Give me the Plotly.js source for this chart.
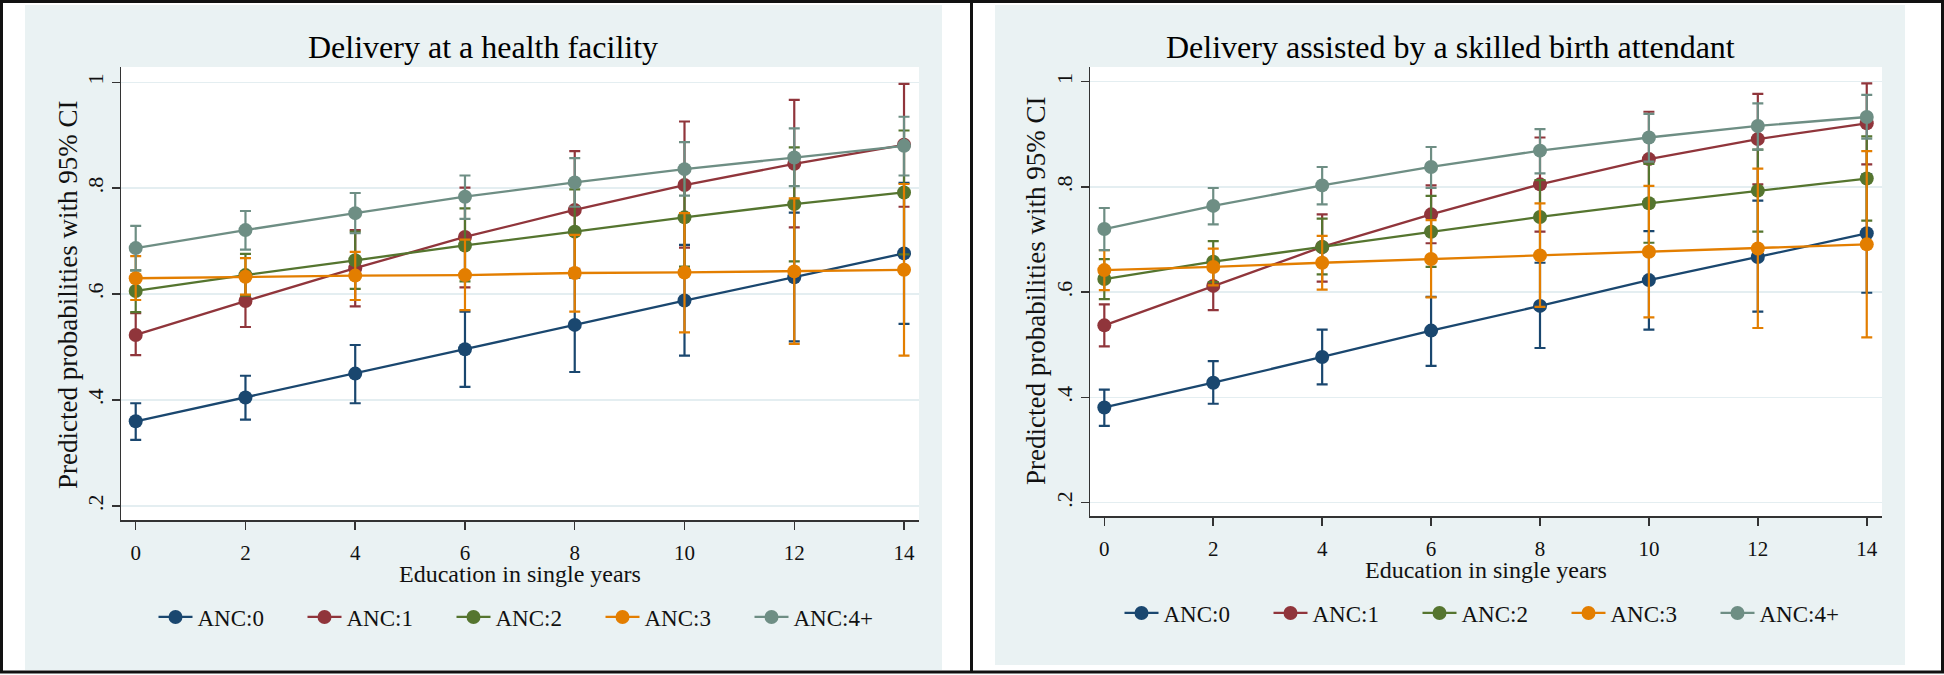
<!DOCTYPE html>
<html>
<head>
<meta charset="utf-8">
<script src="https://cdn.plot.ly/plotly-3.0.1.min.js"></script>
<style>
html,body{margin:0;padding:0;background:#ffffff;overflow:hidden;}
#chart{width:1944px;height:675px;}
</style>
</head>
<body>
<div id="chart"></div>
<script>
// ---------- data ----------
const educationYears = [0, 2, 4, 6, 8, 10, 12, 14];
const seriesNames = ['ANC:0', 'ANC:1', 'ANC:2', 'ANC:3', 'ANC:4+'];
const seriesColors = ['#1a476f', '#90353b', '#55752f', '#e37e00', '#6e8e84'];
const xTickLabels = ['0', '2', '4', '6', '8', '10', '12', '14'];
const yTickValues = [0.2, 0.4, 0.6, 0.8, 1];
const yTickLabels = ['.2', '.4', '.6', '.8', '1'];

// Panel 1: Delivery at a health facility
const facilityAnc0 = [0.360, 0.405, 0.450, 0.496, 0.542, 0.588, 0.632, 0.677];
const facilityAnc0Lo = [0.325, 0.363, 0.394, 0.425, 0.453, 0.484, 0.511, 0.544];
const facilityAnc0Hi = [0.394, 0.446, 0.504, 0.567, 0.631, 0.693, 0.754, 0.810];
const facilityAnc1 = [0.523, 0.587, 0.649, 0.708, 0.759, 0.806, 0.846, 0.882];
const facilityAnc1Lo = [0.485, 0.538, 0.577, 0.613, 0.648, 0.688, 0.726, 0.765];
const facilityAnc1Hi = [0.564, 0.636, 0.721, 0.801, 0.870, 0.926, 0.967, 0.997];
const facilityAnc2 = [0.606, 0.636, 0.664, 0.692, 0.718, 0.745, 0.770, 0.792];
const facilityAnc2Lo = [0.566, 0.597, 0.610, 0.624, 0.638, 0.652, 0.662, 0.675];
const facilityAnc2Hi = [0.645, 0.676, 0.718, 0.762, 0.798, 0.838, 0.877, 0.909];
const facilityAnc3 = [0.630, 0.633, 0.635, 0.636, 0.640, 0.641, 0.643, 0.646];
const facilityAnc3Lo = [0.589, 0.599, 0.589, 0.570, 0.567, 0.528, 0.506, 0.484];
const facilityAnc3Hi = [0.672, 0.668, 0.680, 0.703, 0.712, 0.753, 0.781, 0.808];
const facilityAnc4 = [0.687, 0.721, 0.753, 0.784, 0.811, 0.836, 0.858, 0.880];
const facilityAnc4Lo = [0.645, 0.684, 0.715, 0.742, 0.765, 0.786, 0.804, 0.824];
const facilityAnc4Hi = [0.729, 0.757, 0.791, 0.824, 0.857, 0.887, 0.913, 0.935];

// Panel 2: Delivery assisted by a skilled birth attendant
const sbaAnc0 = [0.381, 0.428, 0.477, 0.527, 0.574, 0.623, 0.667, 0.712];
const sbaAnc0Lo = [0.346, 0.388, 0.425, 0.460, 0.494, 0.529, 0.563, 0.599];
const sbaAnc0Hi = [0.415, 0.469, 0.529, 0.591, 0.656, 0.716, 0.774, 0.824];
const sbaAnc1 = [0.537, 0.612, 0.686, 0.748, 0.805, 0.853, 0.891, 0.921];
const sbaAnc1Lo = [0.497, 0.566, 0.620, 0.693, 0.715, 0.763, 0.805, 0.843];
const sbaAnc1Hi = [0.577, 0.658, 0.748, 0.803, 0.894, 0.943, 0.977, 0.997];
const sbaAnc2 = [0.625, 0.658, 0.686, 0.715, 0.743, 0.769, 0.793, 0.816];
const sbaAnc2Lo = [0.587, 0.619, 0.634, 0.648, 0.673, 0.694, 0.715, 0.736];
const sbaAnc2Hi = [0.663, 0.697, 0.740, 0.783, 0.813, 0.844, 0.871, 0.896];
const sbaAnc3 = [0.642, 0.648, 0.656, 0.663, 0.670, 0.677, 0.683, 0.691];
const sbaAnc3Lo = [0.604, 0.613, 0.605, 0.590, 0.572, 0.552, 0.532, 0.514];
const sbaAnc3Hi = [0.680, 0.683, 0.707, 0.737, 0.769, 0.802, 0.835, 0.868];
const sbaAnc4 = [0.720, 0.764, 0.803, 0.838, 0.869, 0.894, 0.916, 0.933];
const sbaAnc4Lo = [0.680, 0.729, 0.767, 0.798, 0.826, 0.848, 0.871, 0.892];
const sbaAnc4Hi = [0.760, 0.798, 0.838, 0.876, 0.910, 0.939, 0.959, 0.975];

const panelTitles = ['Delivery at a health facility', 'Delivery assisted by a skilled birth attendant'];
const xAxisTitle = 'Education in single years';
const yAxisTitle = 'Predicted probabilities with 95% CI';

// ---------- build ----------
const FONT = 'Liberation Serif, Times New Roman, serif';
const W = 1944, H = 675;
const px = v => v / W;
const py = v => 1 - v / H;

const facilitySets = [
  [facilityAnc0, facilityAnc0Lo, facilityAnc0Hi],
  [facilityAnc1, facilityAnc1Lo, facilityAnc1Hi],
  [facilityAnc2, facilityAnc2Lo, facilityAnc2Hi],
  [facilityAnc3, facilityAnc3Lo, facilityAnc3Hi],
  [facilityAnc4, facilityAnc4Lo, facilityAnc4Hi]
];
const sbaSets = [
  [sbaAnc0, sbaAnc0Lo, sbaAnc0Hi],
  [sbaAnc1, sbaAnc1Lo, sbaAnc1Hi],
  [sbaAnc2, sbaAnc2Lo, sbaAnc2Hi],
  [sbaAnc3, sbaAnc3Lo, sbaAnc3Hi],
  [sbaAnc4, sbaAnc4Lo, sbaAnc4Hi]
];

function makeTraces(sets, xa, ya, legendId) {
  return sets.map((s, i) => {
    const [est, lo, hi] = s;
    return {
      type: 'scatter',
      mode: 'lines+markers',
      x: educationYears,
      y: est,
      name: seriesNames[i],
      xaxis: xa, yaxis: ya,
      legend: legendId,
      line: {color: seriesColors[i], width: 2.3},
      marker: {color: seriesColors[i], size: 14},
      error_y: {
        type: 'data', symmetric: false,
        array: hi.map((h, k) => h - est[k]),
        arrayminus: est.map((e, k) => e - lo[k]),
        color: seriesColors[i], thickness: 2.2, width: 5.5
      },
      hoverinfo: 'x+y+name'
    };
  });
}

const data = [
  ...makeTraces(facilitySets, 'x', 'y', 'legend'),
  ...makeTraces(sbaSets, 'x2', 'y2', 'legend2')
];

const xAxisCommon = {
  tickmode: 'array', tickvals: educationYears, ticktext: xTickLabels,
  ticks: 'outside', ticklen: 8, tickwidth: 1.5, tickcolor: '#333',
  showline: true, linecolor: '#333', linewidth: 1.5,
  showgrid: false, zeroline: false,
  tickfont: {family: FONT, size: 21, color: '#111'},
  ticklabelstandoff: 5
};
const yAxisCommon = {
  tickmode: 'array', tickvals: yTickValues, ticktext: yTickLabels,
  ticks: 'outside', ticklen: 8, tickwidth: 1.5, tickcolor: '#333',
  showline: true, linecolor: '#333', linewidth: 1.5,
  showgrid: true, gridcolor: '#e4eef1', gridwidth: 1.5, zeroline: false,
  tickangle: -90,
  tickfont: {family: FONT, size: 22, color: '#111'}
};

const legendCommon = {
  orientation: 'h', xanchor: 'center', yanchor: 'middle',
  bgcolor: 'rgba(0,0,0,0)', font: {family: FONT, size: 23, color: '#111'},
  entrywidth: 100, entrywidthmode: 'pixels', itemwidth: 34
};

const layout = {
  width: W, height: H,
  margin: {l: 0, r: 0, t: 0, b: 0, pad: 0, autoexpand: false},
  paper_bgcolor: '#ffffff',
  plot_bgcolor: 'rgba(0,0,0,0)',
  font: {family: FONT, color: '#111'},
  xaxis: Object.assign({}, xAxisCommon, {domain: [px(121), px(919)], range: [-0.268, 14.273], anchor: 'y'}),
  yaxis: Object.assign({}, yAxisCommon, {domain: [py(520), py(67)], range: [0.1736, 1.0289], anchor: 'x'}),
  xaxis2: Object.assign({}, xAxisCommon, {domain: [px(1090), px(1882)], range: [-0.263, 14.28], anchor: 'y2'}),
  yaxis2: Object.assign({}, yAxisCommon, {domain: [py(516), py(67)], range: [0.1747, 1.028], anchor: 'x2'}),
  showlegend: true,
  legend: Object.assign({}, legendCommon, {x: px(526), y: py(617)}),
  legend2: Object.assign({}, legendCommon, {x: px(1492), y: py(613)}),
  shapes: [
    // panel backgrounds
    {type: 'rect', xref: 'paper', yref: 'paper', layer: 'below', x0: px(25), x1: px(942), y0: py(670), y1: py(5), fillcolor: '#eaf2f3', line: {width: 0}},
    {type: 'rect', xref: 'paper', yref: 'paper', layer: 'below', x0: px(995), x1: px(1905), y0: py(665), y1: py(5), fillcolor: '#eaf2f3', line: {width: 0}},
    // plot regions
    {type: 'rect', xref: 'paper', yref: 'paper', layer: 'below', x0: px(121), x1: px(919), y0: py(520), y1: py(67), fillcolor: '#ffffff', line: {width: 0}},
    {type: 'rect', xref: 'paper', yref: 'paper', layer: 'below', x0: px(1090), x1: px(1882), y0: py(516), y1: py(67), fillcolor: '#ffffff', line: {width: 0}},
    // outer frames
    {type: 'rect', xref: 'paper', yref: 'paper', layer: 'above', x0: px(1.5), x1: px(1942.5), y0: py(672), y1: py(1.5), fillcolor: 'rgba(0,0,0,0)', line: {color: '#111', width: 3}},
    {type: 'line', xref: 'paper', yref: 'paper', layer: 'above', x0: px(971.5), x1: px(971.5), y0: py(672), y1: py(1.5), line: {color: '#111', width: 3}}
  ],
  annotations: [
    {text: panelTitles[0], xref: 'paper', yref: 'paper', x: px(483), y: py(47), xanchor: 'center', yanchor: 'middle', showarrow: false, font: {family: FONT, size: 32, color: '#000'}},
    {text: panelTitles[1], xref: 'paper', yref: 'paper', x: px(1450), y: py(47), xanchor: 'center', yanchor: 'middle', showarrow: false, font: {family: FONT, size: 32, color: '#000'}},
    {text: yAxisTitle, xref: 'paper', yref: 'paper', x: px(68), y: py(295), xanchor: 'center', yanchor: 'middle', textangle: -90, showarrow: false, font: {family: FONT, size: 27, color: '#111'}},
    {text: yAxisTitle, xref: 'paper', yref: 'paper', x: px(1036), y: py(291), xanchor: 'center', yanchor: 'middle', textangle: -90, showarrow: false, font: {family: FONT, size: 27, color: '#111'}},
    {text: xAxisTitle, xref: 'paper', yref: 'paper', x: px(520), y: py(574), xanchor: 'center', yanchor: 'middle', showarrow: false, font: {family: FONT, size: 24, color: '#111'}},
    {text: xAxisTitle, xref: 'paper', yref: 'paper', x: px(1486), y: py(570), xanchor: 'center', yanchor: 'middle', showarrow: false, font: {family: FONT, size: 24, color: '#111'}}
  ]
};

Plotly.newPlot('chart', data, layout, {displayModeBar: false, staticPlot: true});
</script>
</body>
</html>
